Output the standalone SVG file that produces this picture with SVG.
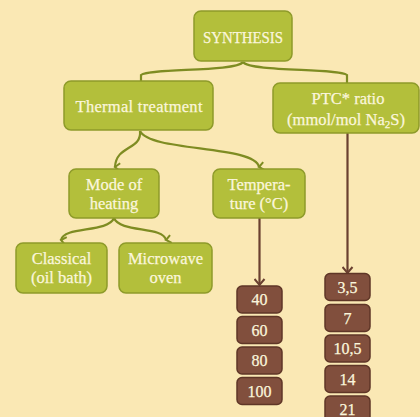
<svg xmlns="http://www.w3.org/2000/svg" width="420" height="417" viewBox="0 0 420 417">
<style>
.g{fill:#B3BF3B;stroke:#8E9B2A;stroke-width:1.5}
.b{fill:#814F3D;stroke:#5F3627;stroke-width:1.5}
.t{font-family:"Liberation Serif","DejaVu Serif",serif;fill:#FBF6DC;stroke:#FBF6DC;stroke-width:0.25;text-anchor:middle;font-size:16.5px}
.n{font-family:"Liberation Serif","DejaVu Serif",serif;fill:#FBF6DC;stroke:#FBF6DC;stroke-width:0.25;text-anchor:middle;font-size:16px}
.cg{fill:none;stroke:#7E8C22;stroke-width:2.2}
.cb{fill:none;stroke:#6A4030;stroke-width:2.2}
</style>
<defs>
<marker id="ag" markerWidth="10" markerHeight="10" refX="5" refY="7" orient="auto-start-reverse" markerUnits="userSpaceOnUse" viewBox="0 0 10 10">
<path d="M1,2 L5,7 L9,2" fill="none" stroke="#7E8C22" stroke-width="2"/>
</marker>
<marker id="ab" markerWidth="12" markerHeight="12" refX="6" refY="9" orient="0" markerUnits="userSpaceOnUse" viewBox="0 0 12 12">
<path d="M1,3 L6,9 L11,3" fill="none" stroke="#6A4030" stroke-width="2"/>
</marker>
</defs>
<rect width="420" height="417" fill="#FAE8B4"/>
<g id="connectors">
<path class="cg" d="M243,62 C236,72 150,68 141,75 L141,82"/>
<path class="cg" d="M243,62 C250,72 338,68 347,75 L347,84"/>
<path class="cg" d="M140,131 C142,150 116,145 115,167" marker-end="url(#ag)"/>
<path class="cg" d="M140,131 C150,152 255,145 259,167" marker-end="url(#ag)"/>
<path class="cg" d="M114,218 C108,233 64,226 61,240" marker-end="url(#ag)"/>
<path class="cg" d="M114,218 C120,233 163,226 166,240" marker-end="url(#ag)"/>
<path class="cb" d="M259.5,218 L259.5,285" marker-end="url(#ab)"/>
<path class="cb" d="M347.5,133 L347.5,273" marker-end="url(#ab)"/>
</g>
<g id="synthesis"><rect class="g" x="194" y="11" width="98" height="50" rx="7"/><text class="t" x="243" y="43" textLength="80" lengthAdjust="spacingAndGlyphs">SYNTHESIS</text></g>
<g id="thermal"><rect class="g" x="64" y="81" width="149" height="49" rx="7"/><text class="t" x="139" y="112" textLength="127">Thermal treatment</text></g>
<g id="ptc"><rect class="g" x="273" y="83" width="146" height="50" rx="7"/><text class="t" x="348" y="104">PTC* ratio</text><text class="t" x="346" y="125">(mmol/mol Na<tspan font-size="11" dy="3">2</tspan><tspan dy="-3">S)</tspan></text></g>
<g id="mode"><rect class="g" x="69" y="169" width="90" height="49" rx="7"/><text class="t" x="114" y="190">Mode of</text><text class="t" x="114" y="209">heating</text></g>
<g id="temperature"><rect class="g" x="213" y="169" width="92" height="49" rx="7"/><text class="t" x="259" y="190">Tempera-</text><text class="t" x="259" y="209">ture (°C)</text></g>
<g id="classical"><rect class="g" x="16" y="243" width="91" height="50" rx="7"/><text class="t" x="61.5" y="264">Classical</text><text class="t" x="61.5" y="283">(oil bath)</text></g>
<g id="microwave"><rect class="g" x="119" y="243" width="93" height="50" rx="7"/><text class="t" x="165.5" y="264">Microwave</text><text class="t" x="165.5" y="283">oven</text></g>
<g id="t40"><rect class="b" x="237" y="286" width="45" height="27" rx="5"/><text class="n" x="259.5" y="305">40</text></g>
<g id="t60"><rect class="b" x="237" y="316.5" width="45" height="27" rx="5"/><text class="n" x="259.5" y="335.5">60</text></g>
<g id="t80"><rect class="b" x="237" y="347" width="45" height="27" rx="5"/><text class="n" x="259.5" y="366">80</text></g>
<g id="t100"><rect class="b" x="237" y="377.5" width="45" height="27" rx="5"/><text class="n" x="259.5" y="396.5">100</text></g>
<g id="r35"><rect class="b" x="325" y="273.5" width="45" height="27" rx="5"/><text class="n" x="347.5" y="292.5">3,5</text></g>
<g id="r7"><rect class="b" x="325" y="304.5" width="45" height="27" rx="5"/><text class="n" x="347.5" y="323.5">7</text></g>
<g id="r105"><rect class="b" x="325" y="335" width="45" height="27" rx="5"/><text class="n" x="347.5" y="354">10,5</text></g>
<g id="r14"><rect class="b" x="325" y="365.5" width="45" height="27" rx="5"/><text class="n" x="347.5" y="384.5">14</text></g>
<g id="r21"><rect class="b" x="325" y="396" width="45" height="27" rx="5"/><text class="n" x="347.5" y="415">21</text></g>
</svg>
